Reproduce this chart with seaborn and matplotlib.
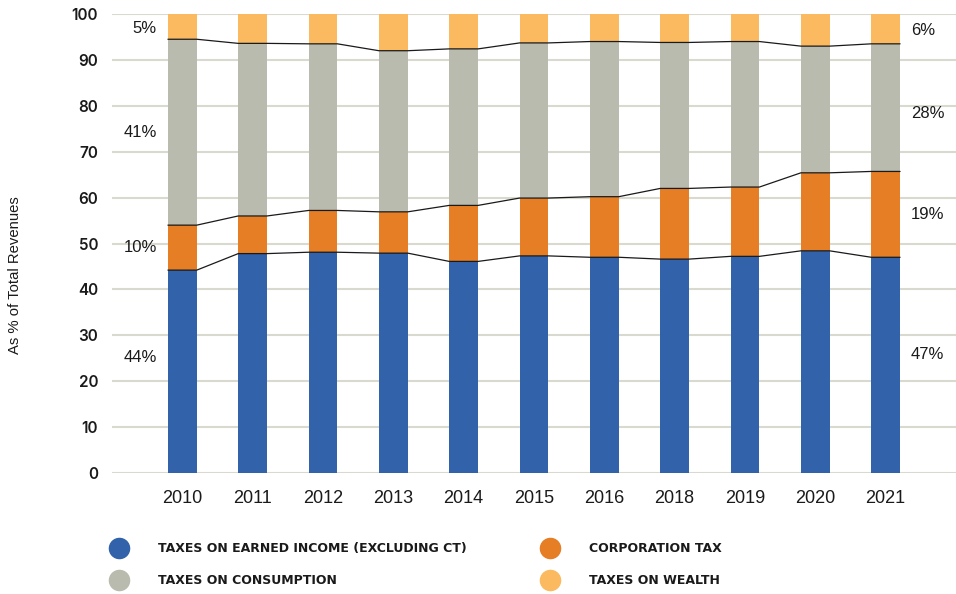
import matplotlib
matplotlib.use("Agg")
import matplotlib.pyplot as plt
import seaborn as sns
import numpy as np
import pandas as pd
from matplotlib.lines import Line2D

# ---------------- data ----------------
years = ["2010", "2011", "2012", "2013", "2014", "2015", "2016", "2018", "2019", "2020", "2021"]
earned_income = [44.2, 47.8, 48.1, 47.9, 46.1, 47.3, 47.0, 46.6, 47.2, 48.4, 47.0]
corporation = [9.8, 8.2, 9.1, 9.0, 12.2, 12.6, 13.2, 15.4, 15.1, 17.0, 18.7]
consumption = [40.5, 37.6, 36.3, 35.1, 34.1, 33.8, 33.8, 31.8, 31.7, 27.6, 27.8]
wealth = [5.5, 6.4, 6.5, 8.0, 7.6, 6.3, 6.0, 6.2, 6.0, 7.0, 6.5]

series_names = ["TAXES ON EARNED INCOME (EXCLUDING CT)", "CORPORATION TAX",
                "TAXES ON CONSUMPTION", "TAXES ON WEALTH"]
series_colors = ["#3262AA", "#E57E25", "#B9BBAE", "#FBB960"]
first_labels = ["44%", "10%", "41%", "5%"]
last_labels = ["47%", "19%", "28%", "6%"]
yticks = list(range(0, 101, 10))
ylabel = "As % of Total Revenues"

# ---------------- figure ----------------
sns.set_theme(style="white")
plt.rcParams["font.family"] = ["Liberation Sans", "DejaVu Sans"]

fig = plt.figure(figsize=(9.56, 5.94), dpi=100)
ax = fig.add_axes([112 / 956, 1 - 473 / 594, (956 - 112) / 956, (473 - 14) / 594])

stack = np.array([earned_income, corporation, consumption, wealth])
cum = np.cumsum(stack, axis=0)
bar_w = 0.41

df = pd.DataFrame({"year": years})
for k in range(3, -1, -1):
    df["v"] = cum[k]
    sns.barplot(data=df, x="year", y="v", order=years, color=series_colors[k],
                saturation=1, width=bar_w, errorbar=None, ax=ax, zorder=2,
                linewidth=0, edgecolor="none")

# series lines connecting segment boundaries
xpos = np.arange(len(years))
for k in range(3):
    xs = np.ravel(np.column_stack([xpos - bar_w / 2, xpos + bar_w / 2]))
    ys = np.repeat(cum[k], 2)
    ax.plot(xs, ys, color="#1a1a1a", lw=0.9, zorder=4)

# end labels
bounds = np.vstack([np.zeros(len(years)), cum])
mids = (bounds[:-1] + bounds[1:]) / 2
for k in range(4):
    yl = mids[k, 0] if k > 0 else mids[k, 0] + 3
    yr = mids[k, -1] if k > 0 else mids[k, -1] + 2.3
    if k == 2:
        yr -= 1.2
    if k == 3:
        yl -= 0.4
        yr -= 0.4
    ax.text(-0.36, yl, first_labels[k], ha="right", va="center", fontsize=12, color="#1a1a1a")
    ax.text(len(years) - 1 + 0.36, yr, last_labels[k], ha="left", va="center",
            fontsize=12, color="#1a1a1a")

ax.set_xlim(-1, len(years) - 1 + 1.0)
ax.set_ylim(0, 100)
ax.set_yticks(yticks)
ax.set_yticklabels([str(t) for t in yticks], fontfamily="Inter", fontweight="semibold",
                   fontsize=11, color="#1a1a1a")
for lab in ax.get_xticklabels():
    lab.set_fontsize(13)
    lab.set_color("#1a1a1a")
ax.tick_params(axis="y", length=0, pad=10)
ax.tick_params(axis="x", length=0, pad=12)
ax.set_xlabel("")
ax.set_ylabel("")
ax.yaxis.grid(True, color="#D9D9D0", lw=1.5)
ax.xaxis.grid(False)
ax.set_axisbelow(True)
for s in ax.spines.values():
    s.set_visible(False)

fig.text(15 / 956, 1 - 275 / 594, ylabel, rotation=90, ha="center", va="center",
         fontsize=10.7, color="#1a1a1a")

# legend: two columns placed independently
def handle(c):
    return Line2D([], [], marker="o", linestyle="none", markersize=14.5,
                  markerfacecolor=c, markeredgecolor=c)

leg_kw = dict(loc="upper left", frameon=False, ncol=1, borderpad=0, borderaxespad=0,
              handlelength=1.6, handletextpad=2.3, labelspacing=1.55,
              prop={"family": "DejaVu Sans", "weight": "bold", "size": 9})
leg1 = fig.legend([handle(series_colors[0]), handle(series_colors[2])],
                  [series_names[0], series_names[2]],
                  bbox_to_anchor=(109 / 956, 1 - 542 / 594), **leg_kw)
leg2 = fig.legend([handle(series_colors[1]), handle(series_colors[3])],
                  [series_names[1], series_names[3]],
                  bbox_to_anchor=(540 / 956, 1 - 542 / 594), **leg_kw)
for leg in (leg1, leg2):
    for t in leg.get_texts():
        t.set_color("#1a1a1a")

fig.savefig("out.png", dpi=100)
